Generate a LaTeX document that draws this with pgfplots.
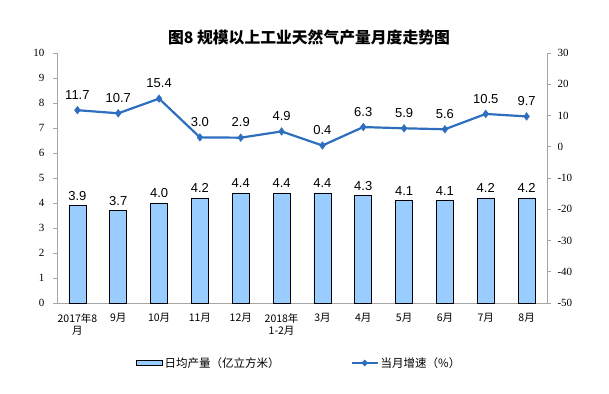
\documentclass[border=0pt]{standalone}
\usepackage{fontspec}
\setmainfont{Liberation Serif}
\newfontfamily\sansf{Liberation Sans}
\newfontfamily\cjk{Noto Sans CJK SC}
\usepackage{pgfplots}
\pgfplotsset{compat=1.18}
\definecolor{barblue}{RGB}{153,204,255}
\definecolor{lineblue}{RGB}{46,110,190}
\definecolor{axgray}{RGB}{166,166,166}
\begin{document}
\begin{tikzpicture}[x=1pt,y=1pt]
\useasboundingbox (0,0) rectangle (609,393);
\node[font={\cjk\bfseries\fontsize{15.8}{18}\selectfont}] at (309,355) {图8 规模以上工业天然气产量月度走势图};
\begin{axis}[
  at={(57pt,90pt)}, anchor=south west,
  scale only axis, width=490pt, height=250pt,
  xmin=-0.5, xmax=11.5, ymin=0, ymax=10,
  axis x line*=bottom, axis y line*=left,
  axis line style={axgray, line width=0.8pt},
  tick align=outside, major tick length=4pt,
  every tick/.style={axgray, line width=0.8pt},
  ytick={0,1,...,10},
  yticklabel style={font={\fontsize{11}{13}\selectfont}, xshift=-5pt},
  /pgf/number format/assume math mode=true,
  xtick={0,...,11},
  xticklabels={{2017年8\\月},9月,10月,11月,12月,{2018年\\1-2月},3月,4月,5月,6月,7月,8月},
  xticklabel style={font={\cjk\fontsize{10.5}{12}\selectfont}, align=center, yshift=-3pt},
  x tick style={draw=none},
  extra x ticks={-0.5,0.5,...,11.5},
  extra x tick labels={},
  extra x tick style={tick align=outside, major tick length=3pt, every tick/.style={axgray, line width=0.8pt}},
  clip=false,
]
\addplot[ybar, bar width=17pt, fill=barblue, draw=black, line width=0.8pt,
  nodes near coords,
  nodes near coords style={font={\sansf\fontsize{13}{15}\selectfont}, black, anchor=south, yshift=1.5pt,
    /pgf/number format/.cd, fixed, fixed zerofill, precision=1}]
  coordinates {(0,3.9)(1,3.7)(2,4.0)(3,4.2)(4,4.4)(5,4.4)(6,4.4)(7,4.3)(8,4.1)(9,4.1)(10,4.2)(11,4.2)};
\end{axis}
\begin{axis}[
  at={(57pt,90pt)}, anchor=south west,
  scale only axis, width=490pt, height=250pt,
  xmin=-0.5, xmax=11.5, ymin=-50, ymax=30,
  axis y line*=right, axis x line=none,
  axis line style={axgray, line width=0.8pt},
  tick align=outside, major tick length=4pt,
  every tick/.style={axgray, line width=0.8pt},
  ytick={-50,-40,...,30},
  yticklabel style={font={\fontsize{11}{13}\selectfont}, xshift=3pt},
  /pgf/number format/assume math mode=true,
  clip=false,
  legend columns=2,
  legend style={draw=none, fill=none, at={(0.494,-0.24)}, anchor=center,
    font={\cjk\fontsize{11.5}{14}\selectfont},
    /tikz/every even column/.append style={column sep=69pt}},
]
\addlegendimage{legend image code/.code={\draw[fill=barblue, draw=black, line width=0.8pt] (0pt,-2.5pt) rectangle (26pt,2.5pt);}}
\addlegendentry{日均产量（亿立方米）}
\addplot[lineblue, line width=2.2pt, mark=diamond*, mark size=3.8pt,
  mark options={fill=lineblue, draw=lineblue, line width=0.5pt},
  nodes near coords,
  nodes near coords style={font={\sansf\fontsize{13}{15}\selectfont}, black, anchor=south, yshift=7pt,
    /pgf/number format/.cd, fixed, fixed zerofill, precision=1},
  legend image code/.code={\draw[lineblue, line width=2pt] (0pt,0pt) -- (26pt,0pt); \fill[lineblue] (13pt,0pt) circle (1.8pt);}]
  coordinates {(0,11.7)(1,10.7)(2,15.4)(3,3.0)(4,2.9)(5,4.9)(6,0.4)(7,6.3)(8,5.9)(9,5.6)(10,10.5)(11,9.7)};
\addlegendentry{当月增速（\%）}
\end{axis}
\end{tikzpicture}
\end{document}
